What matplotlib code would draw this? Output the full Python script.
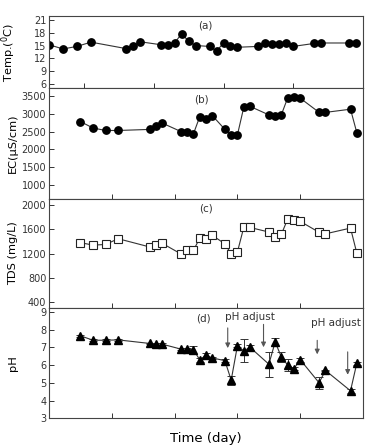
import matplotlib.pyplot as plt

# sampling days (shared by all panels)
days = [10, 14, 18, 22, 32, 34, 36, 42, 44, 46, 48, 50, 52, 56, 58, 60, 62, 64,
        70, 72, 74, 76, 78, 80, 86, 88, 96, 98]

temp = [15.2, 14.2, 14.8, 15.8, 14.3, 14.8, 15.9, 15.2, 15.2, 15.6, 17.8, 16.0,
        15.0, 14.8, 13.7, 15.6, 15.0, 14.6, 14.8, 15.6, 15.3, 15.4, 15.6, 14.8,
        15.5, 15.6, 15.6, 15.6]

ec = [2780, 2600, 2530, 2530, 2560, 2650, 2740, 2500, 2500, 2440, 2920, 2850,
      2950, 2560, 2390, 2410, 3180, 3210, 2970, 2950, 2980, 3450, 3480, 3440,
      3040, 3040, 3130, 2470]

tds = [1380, 1340, 1350, 1445, 1310, 1340, 1370, 1195, 1265, 1255, 1455, 1445,
       1500, 1360, 1195, 1230, 1630, 1630, 1555, 1470, 1520, 1770, 1755, 1730,
       1550, 1525, 1620, 1210]
tds_err = [15] * len(days)

ph = [7.65, 7.4, 7.4, 7.42, 7.22, 7.2, 7.18, 6.9, 6.9, 6.85, 6.3, 6.55, 6.4,
      6.25, 5.15, 7.1, 6.8, 7.0, 6.05, 7.3, 6.45, 6.0, 5.8, 6.3, 5.0, 5.7,
      4.55, 6.1]
ph_err = [0.05, 0.05, 0.05, 0.05, 0.05, 0.05, 0.05, 0.05, 0.05, 0.2, 0.1, 0.12,
          0.08, 0.08, 0.25, 0.1, 0.65, 0.15, 0.7, 0.2, 0.3, 0.35, 0.1, 0.1,
          0.35, 0.05, 0.1, 0.1]

# pH adjustment arrows: x, top, bottom
arrow_x = [56.9, 68.3, 85.4, 95.1]
arrow_top = [8.25, 8.45, 7.55, 6.9]
arrow_bot = [6.8, 6.85, 6.45, 5.3]

fig = plt.figure(figsize=(3.66, 4.47), dpi=100)
left, width = 0.134, 0.858
ax_a = fig.add_axes([left, 0.8025, width, 0.1625])
ax_b = fig.add_axes([left, 0.555, width, 0.2475])
ax_c = fig.add_axes([left, 0.3103, width, 0.2447])
ax_d = fig.add_axes([left, 0.0642, width, 0.2461])

line_kw = dict(color='#333333', lw=0.8)

ax_a.plot(days, temp, marker='o', ms=5.3, mfc='black', mec='black', **line_kw)
ax_b.plot(days, ec, marker='o', ms=5.3, mfc='black', mec='black', **line_kw)
ax_c.errorbar(days, tds, yerr=tds_err, marker='s', ms=5.2, mfc='white',
              mec='#222222', mew=0.8, capsize=2, ecolor='#333333', elinewidth=0.6,
              **line_kw)
ax_d.errorbar(days, ph, yerr=ph_err, marker='^', ms=5.8, mfc='black',
              mec='black', capsize=3, ecolor='#333333', elinewidth=0.7,
              capthick=0.7, **line_kw)

ax_a.set_xlim(10, 100)
ax_a.set_ylim(5, 22)
ax_a.set_yticks([6, 9, 12, 15, 18, 21])
ax_a.set_ylabel('Temp.($^0$C)')

ax_b.set_ylim(600, 3720)
ax_b.set_yticks([1000, 1500, 2000, 2500, 3000, 3500])
ax_b.set_ylabel('EC(\u00b5S/cm)')

ax_c.set_ylim(300, 2100)
ax_c.set_yticks([400, 800, 1200, 1600, 2000])
ax_c.set_ylabel('TDS (mg/L)')

ax_d.set_ylim(3, 9.2)
ax_d.set_yticks([3, 4, 5, 6, 7, 8, 9])
ax_d.set_ylabel('pH')
ax_d.set_xlabel('Time (day)', fontsize=9.5, labelpad=8)

for ax in [ax_b, ax_c, ax_d]:
    ax.set_xlim(0, 100)

for ax in [ax_a, ax_b, ax_c, ax_d]:
    ax.set_xticks([20, 40, 60, 80])
    ax.set_xticklabels([])
    ax.tick_params(direction='in', length=3.5, width=0.7, labelsize=7,
                   colors='#333333', pad=2)
    ax.yaxis.label.set_size(8.2)
    ax.yaxis.set_label_coords(-0.1, 0.5)
    for s in ax.spines.values():
        s.set_linewidth(0.8)
        s.set_color('#444444')

ax_a.text(54.9, 19.6, '(a)', fontsize=7.5, ha='center', va='center', color='#333333')
ax_b.text(48.4, 3400, '(b)', fontsize=7.5, ha='center', va='center', color='#333333')
ax_c.text(50, 1945, '(c)', fontsize=7.5, ha='center', va='center', color='#333333')
ax_d.text(49.2, 8.6, '(d)', fontsize=7.5, ha='center', va='center', color='#333333')
ax_d.text(64, 8.7, 'pH adjust', fontsize=7.5, ha='center', va='center', color='#333333')
ax_d.text(91.4, 8.35, 'pH adjust', fontsize=7.5, ha='center', va='center', color='#333333')

for x, y0, y1 in zip(arrow_x, arrow_top, arrow_bot):
    ax_d.annotate('', xy=(x, y1), xytext=(x, y0),
                  arrowprops=dict(arrowstyle='-|>', color='#555555', lw=0.8,
                                  mutation_scale=7))

fig.savefig('out.png', dpi=100)
